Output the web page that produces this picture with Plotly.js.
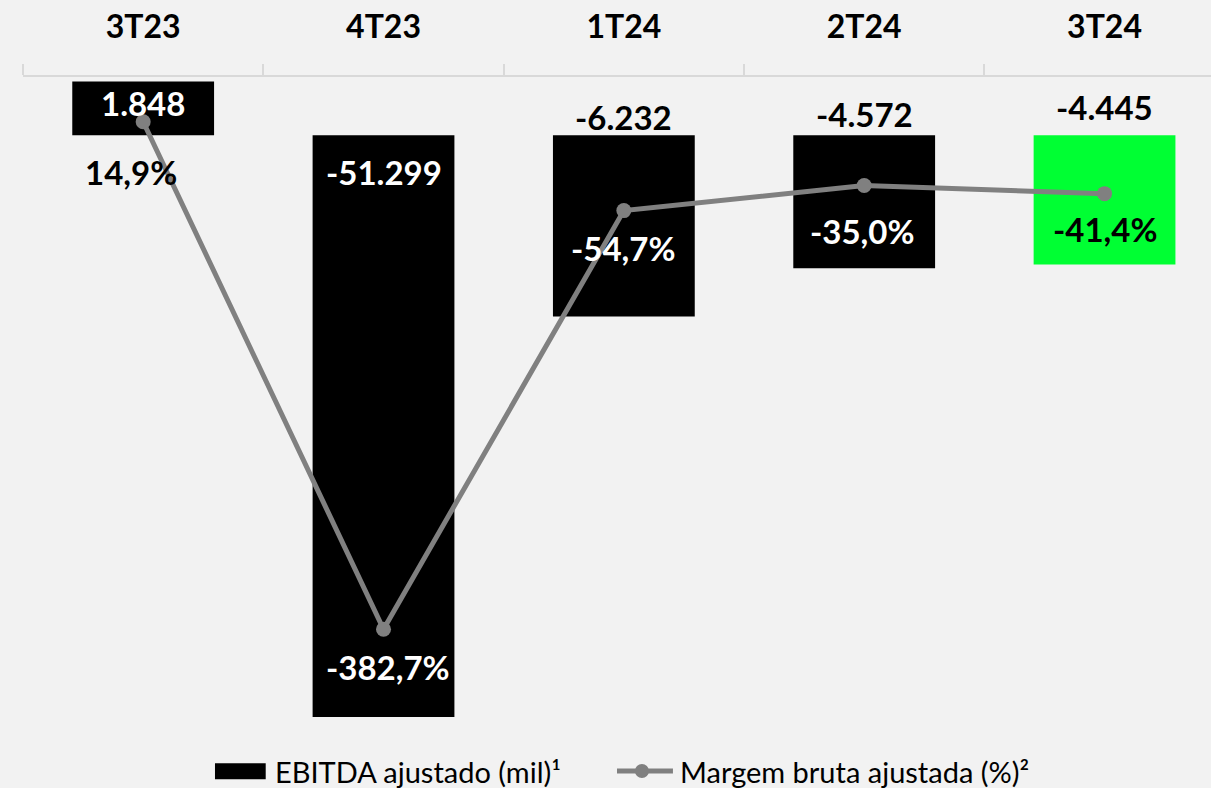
<!DOCTYPE html>
<html>
<head>
<meta charset="utf-8">
<script src="https://cdn.plot.ly/plotly-3.0.1.min.js"></script>
<style>
html,body{margin:0;padding:0;background:#f2f2f2;}
#chart{width:1211px;height:788px;}
</style>
</head>
<body>
<div id="chart"></div>
<script>
// ---- data ----
const categories = ['3T23', '4T23', '1T24', '2T24', '3T24'];
const ebitda = [1848, -51299, -6232, -4572, -4445];
const margem = [14.9, -382.7, -54.7, -35.0, -41.4];
const seriesNames = ['EBITDA ajustado (mil)¹', 'Margem bruta ajustada (%)²'];

// ---- styles ----
const barColors = ['#000000', '#000000', '#000000', '#000000', '#00ff33'];
const barLabelColors = ['#ffffff', '#ffffff', '#000000', '#000000', '#000000'];
const barLabelShiftY = [32, -37, 18.5, 21, 28];
const pctLabelColors = ['#000000', '#ffffff', '#ffffff', '#ffffff', '#000000'];
const pctLabelShiftX = [-12, 4, 0, -1.5, 1];
const pctLabelShiftY = [-50, -37.5, -37, -46, -35];
const lineColor = '#808080';
const FONT = 'Lato, "Open Sans", sans-serif';
const LABEL_SIZE = 33;

function fmtThousands(v) {
  const s = Math.abs(Math.round(v)).toString().replace(/\B(?=(\d{3})+(?!\d))/g, '.');
  return (v < 0 ? '-' : '') + s;
}
function fmtPct(v) {
  return v.toFixed(1).replace('.', ',') + '%';
}

const barTrace = {
  type: 'bar',
  x: categories,
  y: ebitda,
  width: 0.59,
  marker: {color: barColors, line: {width: 0}},
  name: seriesNames[0],
  yaxis: 'y',
  hoverinfo: 'skip',
  showlegend: false
};
const lineTrace = {
  type: 'scatter',
  mode: 'lines+markers',
  x: categories,
  y: margem,
  yaxis: 'y2',
  name: seriesNames[1],
  line: {color: lineColor, width: 5},
  marker: {color: lineColor, size: 15},
  cliponaxis: false,
  hoverinfo: 'skip',
  showlegend: false
};

const annotations = [];
categories.forEach((c, i) => {
  annotations.push({
    x: c, y: 0, xref: 'x', yref: 'y',
    text: fmtThousands(ebitda[i]),
    showarrow: false, yanchor: 'middle', xanchor: 'center',
    yshift: barLabelShiftY[i],
    font: {family: FONT, size: LABEL_SIZE, weight: 'bold', color: barLabelColors[i]}
  });
  annotations.push({
    x: c, y: margem[i], xref: 'x', yref: 'y2',
    text: fmtPct(margem[i]),
    showarrow: false, yanchor: 'middle', xanchor: 'center',
    xshift: pctLabelShiftX[i], yshift: pctLabelShiftY[i],
    font: {family: FONT, size: LABEL_SIZE, weight: 'bold', color: pctLabelColors[i]}
  });
});

// manual legend (paper coordinates)
const legY = -0.0844;
annotations.push({
  x: 0.2102, y: legY, xref: 'paper', yref: 'paper',
  text: seriesNames[0], showarrow: false, xanchor: 'left', yanchor: 'middle',
  font: {family: FONT, size: 29, color: '#000000'}
});
annotations.push({
  x: 0.5513, y: legY, xref: 'paper', yref: 'paper',
  text: seriesNames[1], showarrow: false, xanchor: 'left', yanchor: 'middle',
  font: {family: FONT, size: 29, color: '#000000'}
});
const shapes = [
  {type: 'rect', xref: 'paper', yref: 'paper', x0: 0.1616, x1: 0.2043, y0: -0.0723, y1: -0.0973,
   fillcolor: '#000000', line: {width: 0}},
  {type: 'line', xref: 'paper', yref: 'paper', x0: 0.5, x1: 0.5471, y0: legY, y1: legY,
   line: {color: lineColor, width: 5}},
  {type: 'circle', xref: 'paper', yref: 'paper', xsizemode: 'pixel', ysizemode: 'pixel',
   xanchor: 0.5210, yanchor: legY, x0: -7, x1: 7, y0: -7, y1: 7,
   fillcolor: lineColor, line: {width: 0}}
];

const layout = {
  width: 1211, height: 788,
  paper_bgcolor: '#f2f2f2', plot_bgcolor: '#f2f2f2',
  margin: {l: 23, r: 0, t: 77, b: 71, pad: 0},
  showlegend: false,
  xaxis: {
    type: 'category', side: 'top', range: [-0.5, 4.443],
    showline: true, linecolor: '#d9d9d9', linewidth: 2,
    ticks: 'outside', tickson: 'boundaries', ticklen: 11, tickwidth: 2, tickcolor: '#d9d9d9',
    tickfont: {family: FONT, size: 32, weight: 'bold', color: '#000000'},
    ticklabelstandoff: 24,
    showgrid: false, zeroline: false, fixedrange: true
  },
  yaxis: {range: [-20000, 2000], visible: false, showgrid: false, zeroline: false, fixedrange: true},
  yaxis2: {range: [-451.5, 50], overlaying: 'y', side: 'right', visible: false, showgrid: false, zeroline: false, fixedrange: true},
  annotations: annotations,
  shapes: shapes
};

Plotly.newPlot('chart', [barTrace, lineTrace], layout, {displayModeBar: false, staticPlot: true});
</script>
</body>
</html>
